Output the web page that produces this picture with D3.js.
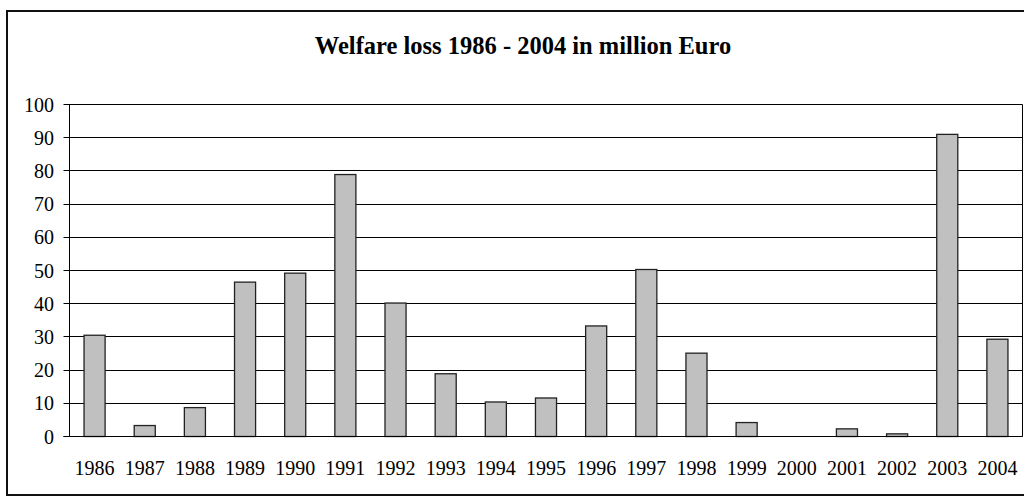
<!DOCTYPE html>
<head>
  <meta charset="utf-8">
<style>
body{
  margin: 0;
  background-color: white;
}
text{
  font-family: "Liberation Serif", "Times New Roman", serif;
  fill: black;
}
.title{
  font-size: 24.5px;
  font-weight: bold;
}
.axis text{
  font-size: 20px;
}
.grid line{
  stroke: black;
  stroke-width: 1px;
}
.bar{
  fill: #c0c0c0;
  stroke: #222;
  stroke-width: 1.3px;
}
</style>
</head>

<body>
  <svg width="1024" height="496"></svg>
</body>

<script src="https://d3js.org/d3.v7.min.js"></script>

<script>

// data
var years = ["1986","1987","1988","1989","1990","1991","1992","1993","1994","1995",
             "1996","1997","1998","1999","2000","2001","2002","2003","2004"];
var loss = [30.5, 3.3, 8.7, 46.5, 49.2, 78.9, 40.2, 18.9, 10.4, 11.6,
            33.3, 50.3, 25.1, 4.2, 0, 2.3, 0.8, 91, 29.3];
var yTicks = [0,10,20,30,40,50,60,70,80,90,100];
var titleText = "Welfare loss 1986 - 2004 in million Euro";

var svg = d3.select("svg"),
    width = +svg.attr("width"),
    height = +svg.attr("height");

var margin = {left: 69.5, right: 1022.5, top: 104.5, bottom: 436.5};

// outer chart border
svg.append("rect")
  .attr("x", 7)
  .attr("y", 11)
  .attr("width", 1040)
  .attr("height", 484)
  .attr("fill", "none")
  .attr("stroke", "#111")
  .attr("stroke-width", 2);

svg.append("text")
  .attr("class", "title")
  .attr("x", 523)
  .attr("y", 54)
  .attr("text-anchor", "middle")
  .text(titleText);

var x = d3.scaleBand()
  .domain(years)
  .range([margin.left, margin.right])
  .paddingInner(0.58)
  .paddingOuter(0.29);

var y = d3.scaleLinear()
  .domain([0, 100])
  .range([margin.bottom, margin.top]);

// gridlines
svg.append("g")
  .attr("class", "grid")
  .selectAll("line")
  .data(yTicks)
  .enter().append("line")
  .attr("x1", margin.left - 6)
  .attr("x2", margin.right)
  .attr("y1", d => Math.round(y(d) - 0.5) + 0.5)
  .attr("y2", d => Math.round(y(d) - 0.5) + 0.5);

// plot area sides
svg.append("line")
  .attr("x1", margin.left).attr("x2", margin.left)
  .attr("y1", margin.top).attr("y2", margin.bottom)
  .attr("stroke", "black");
svg.append("line")
  .attr("x1", margin.right).attr("x2", margin.right)
  .attr("y1", margin.top).attr("y2", margin.bottom)
  .attr("stroke", "black");

// bars
svg.selectAll(".bar")
  .data(loss)
  .enter().append("rect")
  .attr("class", "bar")
  .attr("x", (d, i) => x(years[i]))
  .attr("width", x.bandwidth())
  .attr("y", d => y(d))
  .attr("height", d => y(0) - y(d));

// y labels
svg.append("g")
  .attr("class", "axis")
  .selectAll("text")
  .data(yTicks)
  .enter().append("text")
  .attr("x", 54)
  .attr("y", d => y(d))
  .attr("dy", "0.35em")
  .attr("text-anchor", "end")
  .text(d => d);

// x labels
svg.append("g")
  .attr("class", "axis")
  .selectAll("text")
  .data(years)
  .enter().append("text")
  .attr("x", d => x(d) + x.bandwidth() / 2)
  .attr("y", 475)
  .attr("text-anchor", "middle")
  .text(d => d);

// base line on top of bars
svg.append("line")
  .attr("x1", margin.left - 6).attr("x2", margin.right)
  .attr("y1", margin.bottom).attr("y2", margin.bottom)
  .attr("stroke", "black");

</script>
